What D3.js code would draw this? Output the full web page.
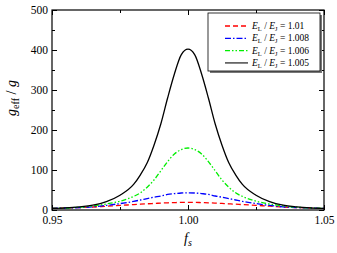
<!DOCTYPE html>
<html>
<head>
<meta charset="utf-8">
<script src="https://cdn.jsdelivr.net/npm/d3@7"></script>
<style>
body { margin: 0; background: #fff; }
svg { display: block; }
</style>
</head>
<body>
<svg id="svg" width="337" height="253"></svg>
<script>
"use strict";
// f_s sample points
const fsValues = [0.95, 0.955, 0.96, 0.965, 0.97, 0.975, 0.98, 0.9825, 0.985, 0.9875, 0.99, 0.9925, 0.995, 0.9975, 1.0,
  1.0025, 1.005, 1.0075, 1.01, 1.0125, 1.015, 1.0175, 1.02, 1.025, 1.03, 1.035, 1.04, 1.045, 1.05];
// g_eff / g for each E_L / E_J ratio
const ratio101 = [4, 5, 6, 7.5, 9.5, 11.5, 13.5, 14.5, 15.5, 16.4, 17.2, 18, 18.5, 19, 19,
  19, 18.5, 18, 17.2, 16.4, 15.5, 14.5, 13.5, 11.5, 9.5, 7.5, 6, 5, 4];
const ratio1008 = [4, 5, 6, 8, 11.5, 16, 21.5, 25, 28.5, 32, 35, 39, 41, 42.5, 43,
  42.5, 41, 39, 35, 32, 28.5, 25, 21.5, 16, 11.5, 8, 6, 5, 4];
const ratio1006 = [4, 5, 7, 10, 15, 22, 34, 43, 57, 75, 98, 121, 140, 151, 155,
  151, 140, 121, 98, 75, 57, 43, 34, 22, 15, 10, 7, 5, 4];
const ratio1005 = [4, 5.5, 8, 12, 21, 37, 64, 88, 118, 162, 215, 280, 340, 388, 402,
  388, 340, 280, 215, 162, 118, 88, 64, 37, 21, 12, 8, 5.5, 4];

const seriesLabels = ['1.01', '1.008', '1.006', '1.005'];
const seriesColors = ['#ff0000', '#0000ff', '#00ee00', '#000000'];
const seriesDashes = ['5,3', '6,2,1.5,2', '5,2,1.5,2,1.5,2', null];
const seriesValues = [ratio101, ratio1008, ratio1006, ratio1005];

const xTicks = [0.95, 1.00, 1.05];
const xMinorTicks = [0.975, 1.025];
const yTicks = [0, 100, 200, 300, 400, 500];
const yMinorTicks = [50, 150, 250, 350, 450];

const serif = '"Liberation Serif", "DejaVu Serif", serif';
const plotLeft = 52, plotRight = 324, plotTop = 10, plotBottom = 210;
const svg = d3.select('#svg').attr('font-family', serif);

const x = d3.scaleLinear().domain([0.95, 1.05]).range([plotLeft, plotRight]);
const y = d3.scaleLinear().domain([0, 500]).range([plotBottom, plotTop]);

// curves
const line = d3.line()
  .x((d, i) => x(fsValues[i]))
  .y(d => y(d))
  .curve(d3.curveMonotoneX);

svg.append('g')
  .selectAll('path')
  .data(seriesValues)
  .enter()
  .append('path')
  .attr('d', d => line(d))
  .attr('fill', 'none')
  .attr('stroke', (d, i) => seriesColors[i])
  .attr('stroke-width', 1.3)
  .attr('stroke-dasharray', (d, i) => seriesDashes[i]);

// axes, inward ticks on all four sides
function styleAxis(g) {
  g.attr('font-family', serif).attr('font-size', 11.5);
  g.select('.domain').remove();
  g.selectAll('line').attr('stroke', '#000').attr('stroke-width', 1);
  g.selectAll('text').attr('fill', '#000');
}
svg.append('g').attr('transform', `translate(0,${plotBottom})`)
  .call(d3.axisBottom(x).tickValues(xTicks).tickSize(-5).tickPadding(6).tickFormat(d3.format('.2f')))
  .call(styleAxis);
svg.append('g').attr('transform', `translate(0,${plotBottom})`)
  .call(d3.axisBottom(x).tickValues(xMinorTicks).tickSize(-3).tickFormat(''))
  .call(styleAxis);
svg.append('g').attr('transform', `translate(0,${plotTop})`)
  .call(d3.axisTop(x).tickValues(xTicks).tickSize(-5).tickFormat(''))
  .call(styleAxis);
svg.append('g').attr('transform', `translate(0,${plotTop})`)
  .call(d3.axisTop(x).tickValues(xMinorTicks).tickSize(-3).tickFormat(''))
  .call(styleAxis);
svg.append('g').attr('transform', `translate(${plotLeft},0)`)
  .call(d3.axisLeft(y).tickValues(yTicks).tickSize(-5).tickPadding(4))
  .call(styleAxis)
  .selectAll('text').attr('dy', '0.28em');
svg.append('g').attr('transform', `translate(${plotLeft},0)`)
  .call(d3.axisLeft(y).tickValues(yMinorTicks).tickSize(-3).tickFormat(''))
  .call(styleAxis);
svg.append('g').attr('transform', `translate(${plotRight},0)`)
  .call(d3.axisRight(y).tickValues(yTicks).tickSize(-5).tickFormat(''))
  .call(styleAxis);
svg.append('g').attr('transform', `translate(${plotRight},0)`)
  .call(d3.axisRight(y).tickValues(yMinorTicks).tickSize(-3).tickFormat(''))
  .call(styleAxis);

svg.append('rect')
  .attr('x', plotLeft).attr('y', plotTop)
  .attr('width', plotRight - plotLeft).attr('height', plotBottom - plotTop)
  .attr('fill', 'none').attr('stroke', '#000').attr('stroke-width', 1.2);

// axis titles
const xt = svg.append('text')
  .attr('x', 188).attr('y', 243)
  .attr('text-anchor', 'middle')
  .attr('font-size', 14);
xt.append('tspan').attr('font-style', 'italic').text('f');
xt.append('tspan').attr('font-style', 'italic').attr('dy', 3).attr('font-size', 10).text('s');

const yt = svg.append('text')
  .attr('transform', 'translate(16,98) rotate(-90)')
  .attr('text-anchor', 'middle')
  .attr('font-size', 14);
yt.append('tspan').attr('font-style', 'italic').text('g');
yt.append('tspan').attr('dy', 3).attr('font-size', 10).text('eff');
yt.append('tspan').attr('dy', -3).text(' / ');
yt.append('tspan').attr('font-style', 'italic').text('g');

// legend
const legend = svg.append('g');
legend.append('rect')
  .attr('x', 210).attr('y', 15).attr('width', 112).attr('height', 58)
  .attr('fill', '#777');
legend.append('rect')
  .attr('x', 208).attr('y', 13).attr('width', 112).attr('height', 58)
  .attr('fill', '#fff').attr('stroke', '#000').attr('stroke-width', 0.8);

const rows = legend.selectAll('.row')
  .data(seriesLabels)
  .enter()
  .append('g')
  .attr('class', 'row')
  .attr('transform', (d, i) => `translate(0,${26 + i * 12.3})`);
rows.append('line')
  .attr('x1', 225).attr('x2', 248).attr('y1', 0).attr('y2', 0)
  .attr('stroke', (d, i) => i === 3 ? '#555' : seriesColors[i])
  .attr('stroke-width', (d, i) => i === 3 ? 1.6 : 1.3)
  .attr('stroke-dasharray', (d, i) => seriesDashes[i]);
const lt = rows.append('text')
  .attr('x', 252).attr('y', 3)
  .attr('font-size', 9.5);
lt.append('tspan').attr('font-style', 'italic').text('E');
lt.append('tspan').attr('dy', 2).attr('font-size', 6.5).text('L');
lt.append('tspan').attr('dy', -2).text(' / ');
lt.append('tspan').attr('font-style', 'italic').text('E');
lt.append('tspan').attr('dy', 2).attr('font-size', 6.5).text('J');
lt.append('tspan').attr('dy', -2).text(d => ' = ' + d);
</script>
</body>
</html>
